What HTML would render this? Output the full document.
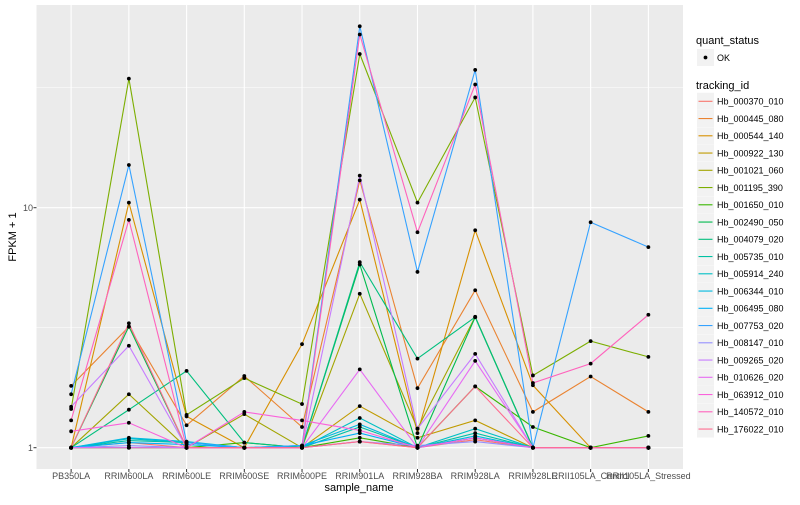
<!DOCTYPE html>
<html><head><meta charset="utf-8"><style>
body{margin:0;background:#fff;font-family:"Liberation Sans",sans-serif;}
svg text{font-family:"Liberation Sans",sans-serif;}
</style></head><body>
<svg id="chart" width="800" height="500" xmlns="http://www.w3.org/2000/svg">
<rect x="0" y="0" width="800" height="500" fill="#fff"/>
<rect id="panel" x="36.5" y="5" width="646.5" height="464" fill="#EBEBEB"/>
<g id="grid"></g><g id="series"></g><g id="points"></g><g id="axes"></g><g id="legend"></g>
<text x="359" y="491" font-size="11" text-anchor="middle" fill="#000">sample_name</text>
<text x="16" y="237" font-size="11" text-anchor="middle" fill="#000" transform="rotate(-90 16 237)">FPKM + 1</text>
</svg>
<script>
const categories = ["PB350LA","RRIM600LA","RRIM600LE","RRIM600SE","RRIM600PE","RRIM901LA","RRIM928BA","RRIM928LA","RRIM928LE","RRII105LA_Control","RRII105LA_Stressed"];
const seriesNames = ["Hb_000370_010","Hb_000445_080","Hb_000544_140","Hb_000922_130","Hb_001021_060","Hb_001195_390","Hb_001650_010","Hb_002490_050","Hb_004079_020","Hb_005735_010","Hb_005914_240","Hb_006344_010","Hb_006495_080","Hb_007753_020","Hb_008147_010","Hb_009265_020","Hb_010626_020","Hb_063912_010","Hb_140572_010","Hb_176022_010"];
const seriesColors = ["#F8766D","#EA8331","#D89000","#C09B00","#A3A500","#7CAE00","#39B600","#00BB4E","#00BF7D","#00C1A3","#00BFC4","#00BAE0","#00B0F6","#35A2FF","#9590FF","#C77CFF","#E76BF3","#FA62DB","#FF62BC","#FF6C90"];
const s00 = [1,1.05,1,1,1,1.06,1,1.08,1,1,1];
const s01 = [1.81,3.19,1.24,1.99,1.22,13.0,1.77,4.53,1.41,1.98,1.41];
const s02 = [1,10.5,1.35,1,2.7,10.8,1.15,8.05,1.82,1,1];
const s03 = [1,1,1,1,1,1.49,1.1,1.3,1,1,1];
const s04 = [1,1.67,1,1.38,1,4.38,1.2,3.51,1,1,1];
const s05 = [1.45,34.5,1.37,1.95,1.52,43.7,10.5,28.8,2.0,2.78,2.39];
const s06 = [1,1,1,1.05,1,1.1,1,1.80,1.22,1,1.12];
const s07 = [1,3.2,1,1,1,5.8,1,3.5,1,1,1];
const s08 = [1,1.44,2.09,1.05,1,5.93,2.35,3.5,1,1,1];
const s09 = [1,1.07,1.05,1,1,1.22,1,1.15,1,1,1];
const s10 = [1,1.09,1.05,1,1,1.33,1,1.2,1,1,1];
const s11 = [1,1.1,1.06,1,1.02,1.25,1,1.12,1,1,1];
const s12 = [1,1.05,1.03,1,1.02,1.15,1,1.1,1,1,1];
const s13 = [1.67,15.06,1.05,1,1.02,57,5.4,37.5,1,8.7,6.85];
const s14 = [1,1.02,1,1,1,1.06,1.02,1.06,1,1,1];
const s15 = [1.48,2.66,1,1,1,13.6,1.2,2.46,1,1,1];
const s16 = [1,1,1,1,1,2.12,1,2.30,1,1,1];
const s17 = [1.17,1.27,1,1.41,1.30,1.18,1,1.1,1,1,1];
const s18 = [1.30,8.9,1,1,1,52.7,7.9,32.6,1.86,2.24,3.58];
const s19 = [1,3.3,1,1,1,1.06,1,1.8,1,1,1];
const seriesValues = [s00,s01,s02,s03,s04,s05,s06,s07,s08,s09,s10,s11,s12,s13,s14,s15,s16,s17,s18,s19];
const yMajorTicks = [1,10];
const yMinorTicks = [Math.sqrt(10),Math.sqrt(1000)];
const yTickLabels = ["1","10"];

const NS="http://www.w3.org/2000/svg";
const px0=36.5, pw=646.5, py0=5, pyB=469;
const step = pw/(categories.length-1+1.2);
function xScale(i){return px0 + step*(0.6+i);}
function yScale(v){return 447.7 - 240*Math.log10(v);}
function mk(tag,attrs,parent){const e=document.createElementNS(NS,tag);for(const k in attrs)e.setAttribute(k,attrs[k]);parent.appendChild(e);return e;}
const grid=document.getElementById('grid'), ser=document.getElementById('series'), pts=document.getElementById('points'), axes=document.getElementById('axes'), leg=document.getElementById('legend');
yMinorTicks.forEach(v=>{const y=yScale(v);if(y>py0&&y<pyB){const l=mk('line',{x1:px0,x2:px0+pw,y1:y,y2:y,stroke:'#fff','stroke-width':0.5},grid);

}});
yMajorTicks.forEach((v,i)=>{const y=yScale(v);const l=mk('line',{x1:px0,x2:px0+pw,y1:y,y2:y,stroke:'#fff','stroke-width':1.1},grid);


const t=mk('text',{x:33,y:y+3.5,'font-size':9,'text-anchor':'end',fill:'#4D4D4D'},axes);t.textContent=yTickLabels[i];


mk('line',{x1:33.5,x2:36.5,y1:y,y2:y,stroke:'#333'},axes);});
categories.forEach((c,i)=>{const x=xScale(i);const l=mk('line',{x1:x,x2:x,y1:py0,y2:pyB,stroke:'#fff','stroke-width':1.1},grid);


mk('line',{x1:x,x2:x,y1:pyB,y2:pyB+3,stroke:'#333'},axes);
const t=mk('text',{x:x,y:479,'font-size':9,'text-anchor':'middle',fill:'#4D4D4D'},axes);t.textContent=c;

});
seriesValues.forEach((vals,si)=>{const d=vals.map((v,i)=>(i?'L':'M')+xScale(i).toFixed(1)+','+yScale(v).toFixed(1)).join(' ');
const p=mk('path',{d:d,fill:'none',stroke:seriesColors[si],'stroke-width':1.1},ser);


vals.forEach((v,i)=>{const c=mk('circle',{cx:xScale(i),cy:yScale(v),r:1.9,fill:'#000'},pts);

});});
// legend
let t=mk('text',{x:696,y:44,'font-size':11,fill:'#000'},leg);t.textContent='quant_status';


mk('rect',{x:697,y:49,width:17,height:17,fill:'#F2F2F2'},leg);
mk('circle',{cx:705.5,cy:57.5,r:1.9,fill:'#000'},leg);
t=mk('text',{x:717,y:61,'font-size':9,fill:'#000'},leg);t.textContent='OK';


t=mk('text',{x:696,y:89,'font-size':11,fill:'#000'},leg);t.textContent='tracking_id';


seriesNames.forEach((n,i)=>{const cy=101.3+i*17.25;
mk('rect',{x:697,y:cy-8.5,width:17,height:17,fill:'#F2F2F2'},leg);
mk('line',{x1:698.5,x2:712.5,y1:cy,y2:cy,stroke:seriesColors[i],'stroke-width':1.1},leg);
const tt=mk('text',{x:717,y:cy+3.3,'font-size':9,fill:'#000'},leg);tt.textContent=n;

});
</script>
</body></html>
